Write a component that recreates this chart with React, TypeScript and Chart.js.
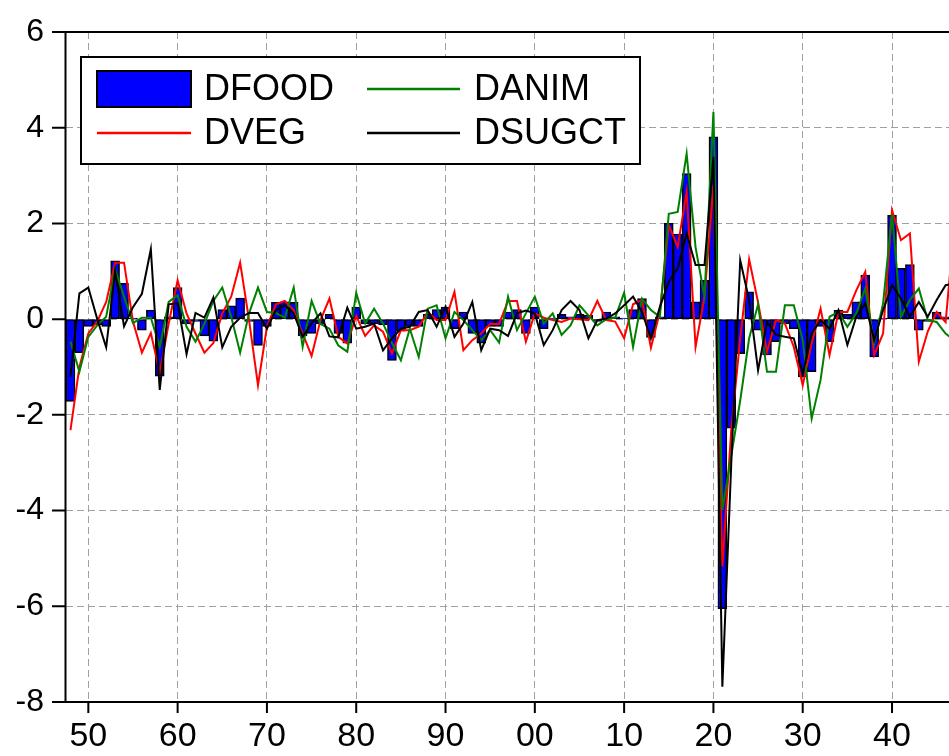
import { useEffect, useRef } from "react";
import { Chart, registerables } from "chart.js";

Chart.register(...registerables);

// Annual first differences, 1848–1947
const FIRST_YEAR = 1848;

const DFOOD = [
  -1.72, -0.70, -0.15, -0.12, -0.15, 1.22, 0.75, 0.02, -0.23, 0.19,
  -1.19, 0.05, 0.66, -0.10, -0.05, -0.35, -0.46, 0.20, 0.28, 0.44,
  -0.05, -0.55, -0.15, 0.35, 0.36, 0.35, -0.35, -0.30, -0.10, 0.10,
  -0.30, -0.50, 0.25, -0.10, -0.10, -0.12, -0.86, -0.25, -0.15, -0.15,
  0.10, 0.20, 0.25, -0.20, 0.15, -0.30, -0.50, -0.15, -0.15, 0.15,
  0.20, -0.30, 0.25, -0.20, 0.02, 0.10, 0.05, 0.10, 0.08, -0.05,
  0.15, 0.05, 0.02, 0.20, 0.43, -0.38, 0.05, 2.00, 1.78, 3.04,
  0.36, 0.81, 3.81, -6.05, -2.28, -0.72, 0.57, -0.23, -0.75, -0.47,
  -0.10, -0.20, -1.20, -1.10, -0.15, -0.47, 0.19, 0.10, 0.36, 0.92,
  -0.79, 0.02, 2.17, 1.06, 1.14, -0.23, -0.05, 0.15, 0.05, 0.12,
];

const DVEG = [
  -2.32, -1.00, -0.30, -0.05, 0.36, 1.18, 1.18, -0.05, -0.70, -0.29,
  -1.12, -0.09, 0.81, 0.12, -0.30, -0.70, -0.50, 0.12, 0.47, 1.18,
  -0.02, -1.38, -0.16, 0.31, 0.38, 0.19, -0.30, -0.77, -0.02, 0.43,
  -0.37, -0.51, 0.07, -0.35, -0.13, -0.26, -0.72, -0.23, -0.23, -0.16,
  0.15, -0.02, -0.02, 0.57, -0.65, -0.44, -0.30, -0.10, -0.10, 0.38,
  0.38, -0.47, 0.12, 0.03, -0.02, -0.06, 0.01, 0.00, -0.02, 0.38,
  -0.02, -0.05, -0.40, 0.31, 0.40, -0.60, 0.15, 1.96, 1.51, 2.66,
  -0.58, 0.47, 2.80, -5.17, -2.30, -0.40, 1.25, 0.35, -0.68, -0.02,
  -0.09, -0.58, -1.38, -0.51, 0.22, -0.75, 0.15, 0.15, 0.60, 0.99,
  -0.75, -0.30, 2.28, 1.65, 1.79, -0.89, -0.26, 0.15, -0.06, 2.00,
];

const DANIM = [
  -0.47, -1.10, -0.37, -0.13, 0.05, 1.04, 0.47, -0.08, 0.03, 0.03,
  -0.58, 0.36, 0.50, -0.16, -0.47, -0.10, 0.38, 0.66, 0.05, -0.70,
  0.12, 0.66, 0.15, 0.13, 0.03, 0.66, -0.58, 0.38, -0.10, -0.20,
  -0.55, -0.68, 0.55, -0.09, 0.22, -0.09, -0.50, -0.86, -0.20, -0.79,
  0.22, 0.29, -0.40, 0.15, -0.02, -0.23, -0.44, -0.23, -0.49, 0.47,
  -0.23, 0.12, 0.47, -0.09, 0.12, -0.33, -0.13, 0.29, 0.08, -0.13,
  0.00, 0.03, 0.55, -0.58, 0.43, 0.19, 0.05, 2.20, 2.24, 3.46,
  1.50, 0.47, 4.33, -3.99, -2.85, -1.70, -0.40, 0.31, -1.10, -1.10,
  0.29, 0.29, -0.44, -2.08, -1.27, 0.05, 0.15, -0.16, 0.12, 0.64,
  -0.51, 0.33, 2.20, 0.05, 0.40, 0.64, -0.02, -0.06, -0.30, -0.45,
];

const DSUGCT = [
  -1.20, 0.54, 0.66, 0.00, -0.59, 1.00, -0.15, 0.25, 0.53, 1.46,
  -1.48, 0.31, 0.33, -0.73, 0.13, 0.03, 0.45, -0.59, -0.16, 0.03,
  0.13, 0.13, -0.20, 0.19, 0.29, 0.12, -0.37, -0.09, 0.12, -0.36,
  -0.38, 0.24, -0.20, -0.16, -0.09, -0.65, -0.40, -0.20, -0.16, 0.15,
  0.19, -0.16, 0.26, -0.37, -0.09, 0.36, -0.65, -0.20, -0.23, -0.35,
  0.12, 0.18, 0.12, -0.54, -0.23, 0.19, 0.38, 0.19, -0.40, -0.02,
  0.01, 0.12, 0.29, 0.47, 0.15, -0.40, 0.25, 0.78, 1.06, 1.79,
  1.13, 1.13, 3.39, -7.68, -3.00, 1.23, 0.40, -1.07, -0.06, -0.33,
  -0.37, -0.40, -1.14, -0.30, -0.02, -0.20, 0.19, -0.54, 0.05, 0.33,
  -0.44, 0.19, 0.71, 0.43, 0.05, 0.36, 0.05, 0.40, 0.71, 0.75,
];

const X_TICKS = [1850, 1860, 1870, 1880, 1890, 1900, 1910, 1920, 1930, 1940];
const Y_TICKS = [-8, -6, -4, -2, 0, 2, 4, 6];

const X_MIN = 1847.5;
const X_MAX = 1946.38;

const FONT = '"Liberation Sans", Arial, Helvetica, sans-serif';

const BLUE = "#0000FF";
const RED = "#FF0000";
const GREEN = "#008000";
const BLACK = "#000000";
const GRID = "#A0A0A0";

const toPoints = (vals: number[]) =>
  vals.map((v, i) => ({ x: FIRST_YEAR + i, y: v }));

// Frame, outward tick marks and the two-column boxed legend
const framePlugin = {
  id: "frameAndLegend",
  afterDatasetsDraw(chart: any) {
    const ctx = chart.ctx as CanvasRenderingContext2D;
    const { left, right, top, bottom } = chart.chartArea;
    const xs = chart.scales.x;
    const ys = chart.scales.y;
    ctx.save();
    ctx.strokeStyle = BLACK;
    ctx.lineWidth = 2;
    ctx.setLineDash([]);
    ctx.beginPath();
    ctx.moveTo(right, top);
    ctx.lineTo(left - 0.5, top);
    ctx.lineTo(left - 0.5, bottom);
    ctx.lineTo(right, bottom);
    ctx.stroke();

    // tick marks
    ctx.beginPath();
    for (const v of Y_TICKS) {
      const py = ys.getPixelForValue(v);
      ctx.moveTo(left - 14, py);
      ctx.lineTo(left, py);
    }
    for (const v of X_TICKS) {
      const px = xs.getPixelForValue(v);
      ctx.moveTo(px, bottom);
      ctx.lineTo(px, bottom + 11);
    }
    ctx.stroke();

    // legend
    const bx = 81, by = 57, bw = 559, bh = 107;
    ctx.fillStyle = "#FFFFFF";
    ctx.fillRect(bx, by, bw, bh);
    ctx.lineWidth = 2;
    ctx.strokeRect(bx, by, bw, bh);

    const row1 = 89;
    const row2 = 133;
    ctx.fillStyle = BLUE;
    ctx.fillRect(97, 71, 94, 36);
    ctx.strokeStyle = BLACK;
    ctx.strokeRect(97, 71, 94, 36);

    const sample = (x0: number, x1: number, y: number, color: string) => {
      ctx.strokeStyle = color;
      ctx.lineWidth = 2.5;
      ctx.beginPath();
      ctx.moveTo(x0, y);
      ctx.lineTo(x1, y);
      ctx.stroke();
    };
    sample(97, 191, row2, RED);
    sample(367, 460, row1, GREEN);
    sample(367, 460, row2, BLACK);

    ctx.fillStyle = BLACK;
    ctx.font = `36px ${FONT}`;
    ctx.textBaseline = "middle";
    ctx.textAlign = "left";
    ctx.fillText("DFOOD", 204, row1 + 1);
    ctx.fillText("DVEG", 204, row2 + 1);
    ctx.fillText("DANIM", 474, row1 + 1);
    ctx.fillText("DSUGCT", 474, row2 + 1);
    ctx.restore();
  },
};

export default function App() {
  const canvasRef = useRef<HTMLCanvasElement | null>(null);

  useEffect(() => {
    const canvas = canvasRef.current;
    if (!canvas) return;
    const chart = new Chart(canvas, {
      type: "bar",
      data: {
        datasets: [
          {
            type: "line",
            label: "DSUGCT",
            data: toPoints(DSUGCT),
            borderColor: BLACK,
            borderWidth: 2,
            pointRadius: 0,
            tension: 0,
            order: 1,
          },
          {
            type: "line",
            label: "DANIM",
            data: toPoints(DANIM),
            borderColor: GREEN,
            borderWidth: 2,
            pointRadius: 0,
            tension: 0,
            order: 2,
          },
          {
            type: "line",
            label: "DVEG",
            data: toPoints(DVEG),
            borderColor: RED,
            borderWidth: 2,
            pointRadius: 0,
            tension: 0,
            order: 3,
          },
          {
            type: "bar",
            label: "DFOOD",
            data: toPoints(DFOOD),
            backgroundColor: BLUE,
            borderColor: BLACK,
            borderWidth: 1.5,
            borderSkipped: false,
            barPercentage: 1,
            categoryPercentage: 1,
            order: 4,
          },
        ] as any,
      },
      options: {
        responsive: false,
        animation: false,
        devicePixelRatio: 1,
        layout: { padding: { top: 32, right: 0, bottom: 0, left: 0 } },
        plugins: {
          legend: { display: false },
          tooltip: { enabled: false },
        },
        scales: {
          x: {
            type: "linear",
            min: X_MIN,
            max: X_MAX,
            offset: false,
            afterFit: (scale: any) => {
              scale.height = 54;
              scale.paddingLeft = 0;
              scale.paddingRight = 0;
            },
            afterBuildTicks: (scale: any) => {
              scale.ticks = X_TICKS.map((v) => ({ value: v }));
            },
            grid: {
              display: true,
              offset: false,
              drawTicks: false,
              color: GRID,
              lineWidth: 1,
            },
            border: { display: false, dash: [7, 4] },
            ticks: {
              autoSkip: false,
              maxRotation: 0,
              padding: 14,
              color: BLACK,
              font: { family: FONT, size: 34 },
              callback: (v: any) => String(Number(v) % 100).padStart(2, "0"),
            },
          },
          y: {
            type: "linear",
            min: -8,
            max: 6,
            afterFit: (scale: any) => {
              scale.width = 66;
              scale.paddingTop = 0;
              scale.paddingBottom = 0;
            },
            afterBuildTicks: (scale: any) => {
              scale.ticks = Y_TICKS.map((v) => ({ value: v }));
            },
            grid: {
              display: true,
              offset: false,
              drawTicks: false,
              color: GRID,
              lineWidth: 1,
            },
            border: { display: false, dash: [7, 4] },
            ticks: {
              padding: 22,
              color: BLACK,
              font: { family: FONT, size: 32 },
            },
          },
        },
      },
      plugins: [framePlugin],
    });
    return () => chart.destroy();
  }, []);

  return (
    <div
      style={{
        position: "absolute",
        left: 0,
        top: 0,
        width: 949,
        height: 756,
        background: "#FFFFFF",
        overflow: "hidden",
      }}
    >
      <canvas ref={canvasRef} width={949} height={756} />
    </div>
  );
}
